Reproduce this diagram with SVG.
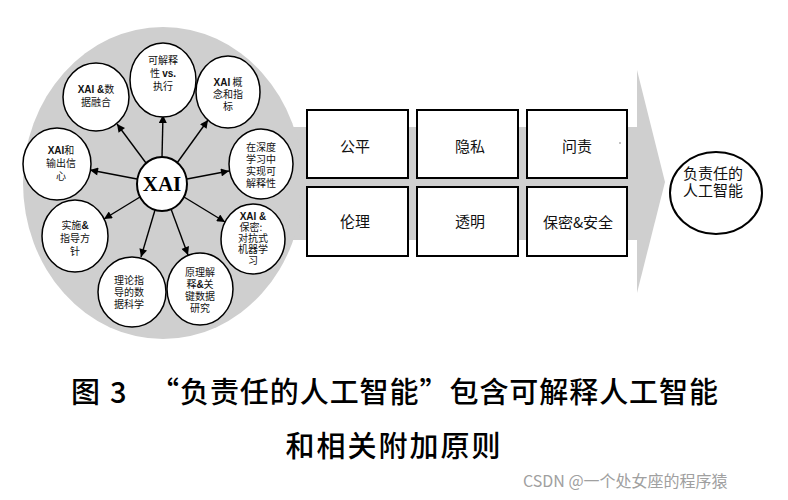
<svg xmlns="http://www.w3.org/2000/svg" width="788" height="500" viewBox="0 0 788 500">
<style>
.sat{fill:#fff;stroke:#000;stroke-width:1.5}
.st{font-family:"Noto Sans CJK SC",sans-serif;font-size:10px;fill:#111;text-anchor:middle}
.lat{font-family:"Liberation Sans",sans-serif;font-weight:bold}
.box{fill:#fff;stroke:#000;stroke-width:2}
.bt{font-family:"Noto Sans CJK SC",sans-serif;font-size:15px;fill:#111;text-anchor:middle}
.cap{font-family:"Noto Sans CJK SC",sans-serif;font-size:29px;font-weight:500;fill:#000}
.conn line{stroke:#000;stroke-width:1.4;marker-end:url(#ah)}
</style>
<defs>
<marker id="ah" viewBox="0 0 10 10" refX="10" refY="5" markerWidth="10" markerHeight="8" orient="auto" markerUnits="userSpaceOnUse"><path d="M0,0 L10,5 L0,10 z" fill="#000"/></marker>
</defs>
<rect width="788" height="500" fill="#fff"/>
<g id="bigarrow">
<rect x="200" y="127" width="440" height="113" fill="#cfcfcf"/>
<polygon points="637,70 665,182 637,293" fill="#cfcfcf"/>
</g>
<g id="xai-cluster">
<ellipse cx="163" cy="183" rx="140" ry="156" fill="#cfcfcf"/>
</g>
<g class="conn" id="connectors">
<line x1="162" y1="157" x2="163" y2="115"/>
<line x1="177" y1="163" x2="208" y2="120"/>
<line x1="146" y1="163" x2="117" y2="124"/>
<line x1="137" y1="179" x2="90" y2="170"/>
<line x1="187" y1="179" x2="229" y2="171"/>
<line x1="184" y1="197" x2="225" y2="222"/>
<line x1="171" y1="209" x2="188" y2="255"/>
<line x1="155" y1="210" x2="141" y2="257"/>
<line x1="140" y1="197" x2="104" y2="219"/>
</g>
<g id="xai">
<ellipse cx="162" cy="184" rx="25" ry="27" fill="#fff" stroke="#000" stroke-width="2"/>
<text x="162" y="191" font-family="Liberation Serif,serif" font-size="21" font-weight="bold" text-anchor="middle">XAI</text>
</g>
<g id="s1"><ellipse class="sat" cx="163" cy="80" rx="33" ry="37"/>
<text class="st" x="163" y="64">可解释</text><text class="st" x="163" y="77">性 <tspan class="lat">vs.</tspan></text><text class="st" x="163" y="90">执行</text></g>
<g id="s2"><ellipse class="sat" cx="228" cy="92" rx="32" ry="36"/>
<text class="st" x="228" y="86"><tspan class="lat">XAI</tspan> 概</text><text class="st" x="228" y="98">念和指</text><text class="st" x="228" y="110">标</text></g>
<g id="s3"><ellipse class="sat" cx="96" cy="97" rx="33" ry="34"/>
<text class="st" x="96" y="93"><tspan class="lat">XAI &amp;</tspan>数</text><text class="st" x="96" y="106">据融合</text></g>
<g id="s4"><ellipse class="sat" cx="57" cy="164" rx="34" ry="36"/>
<text class="st" x="61" y="154"><tspan class="lat">XAI</tspan>和</text><text class="st" x="61" y="167">输出信</text><text class="st" x="61" y="180">心</text></g>
<g id="s5"><ellipse class="sat" cx="261" cy="164" rx="32" ry="35"/>
<text class="st" x="261" y="151">在深度</text><text class="st" x="261" y="163">学习中</text><text class="st" x="261" y="175">实现可</text><text class="st" x="261" y="187">解释性</text></g>
<g id="s6"><ellipse class="sat" cx="253" cy="239" rx="32" ry="35"/>
<text class="st" x="253" y="220"><tspan class="lat">XAI &amp;</tspan></text><text class="st" x="251" y="231">保密:</text><text class="st" x="253" y="242">对抗式</text><text class="st" x="253" y="253">机器学</text><text class="st" x="253" y="264">习</text></g>
<g id="s7"><ellipse class="sat" cx="200" cy="289" rx="33" ry="36"/>
<text class="st" x="200" y="276">原理解</text><text class="st" x="200" y="288">释<tspan class="lat">&amp;</tspan>关</text><text class="st" x="200" y="300">键数据</text><text class="st" x="200" y="312">研究</text></g>
<g id="s8"><ellipse class="sat" cx="132" cy="292" rx="34" ry="35"/>
<text class="st" x="129" y="284">理论指</text><text class="st" x="129" y="296">导的数</text><text class="st" x="129" y="308">据科学</text></g>
<g id="s9"><ellipse class="sat" cx="75" cy="236" rx="33" ry="36"/>
<text class="st" x="75" y="229">实施<tspan class="lat">&amp;</tspan></text><text class="st" x="75" y="242">指导方</text><text class="st" x="75" y="255">针</text></g>
<g id="b1"><rect class="box" x="307" y="110" width="101" height="68"/><text class="bt" x="355" y="152">公平</text></g>
<g id="b2"><rect class="box" x="417" y="110" width="101" height="68"/><text class="bt" x="470" y="152">隐私</text></g>
<g id="b3"><rect class="box" x="527" y="110" width="100" height="68"/><text class="bt" x="577" y="152">问责</text><circle cx="620" cy="143" r="0.8" fill="#777"/></g>
<g id="b4"><rect class="box" x="307" y="187" width="101" height="69"/><text class="bt" x="355" y="227">伦理</text></g>
<g id="b5"><rect class="box" x="417" y="187" width="101" height="69"/><text class="bt" x="470" y="227">透明</text></g>
<g id="b6"><rect class="box" x="527" y="187" width="100" height="69"/><text class="bt" x="578" y="228">保密&amp;安全</text></g>
<g id="rai"><ellipse cx="716" cy="193" rx="46" ry="41" fill="#fff" stroke="#000" stroke-width="2"/>
<text class="bt" x="713" y="179">负责任的</text><text class="bt" x="713" y="196">人工智能</text></g>
<g id="caption">
<text class="cap" x="71" y="403">图</text>
<text class="cap" x="110" y="403" font-family="Liberation Sans,sans-serif" font-weight="normal">3</text>
<text class="cap" x="150" y="403" textLength="568" lengthAdjust="spacing">“负责任的人工智能”包含可解释人工智能</text>
<text class="cap" x="394" y="457" text-anchor="middle" letter-spacing="2">和相关附加原则</text>
</g>
<text x="523" y="487" font-family="Noto Sans CJK SC,sans-serif" font-size="16" fill="#a0a0a0">CSDN @一个处女座的程序猿</text>
</svg>
